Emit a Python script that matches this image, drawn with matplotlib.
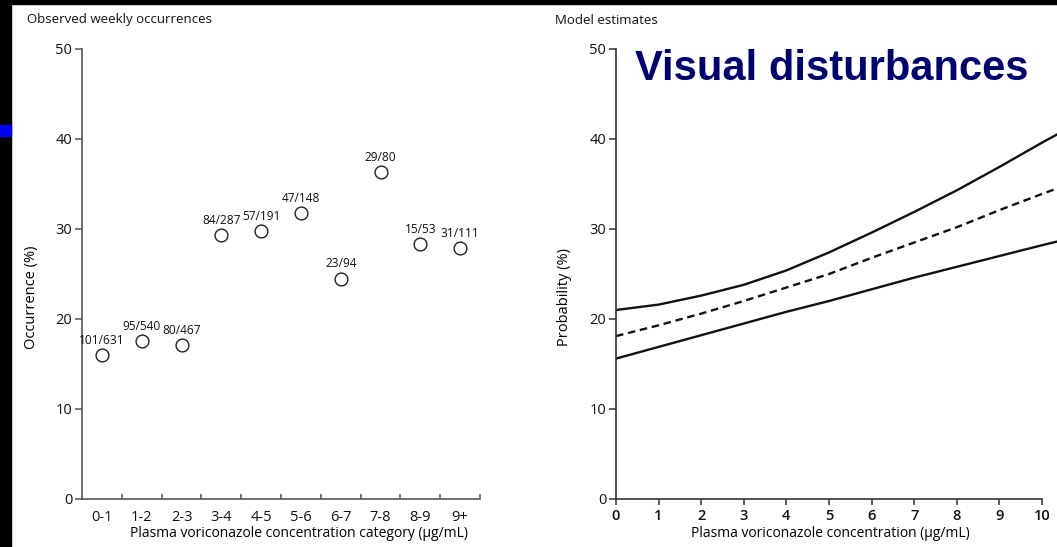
import matplotlib.pyplot as plt
from matplotlib.patches import Rectangle

# observed weekly occurrences per concentration category
categories = ["0-1", "1-2", "2-3", "3-4", "4-5", "5-6", "6-7", "7-8", "8-9", "9+"]
occurrence = [16.0, 17.6, 17.1, 29.3, 29.8, 31.8, 24.5, 36.3, 28.3, 27.9]
counts = ["101/631", "95/540", "80/467", "84/287", "57/191",
          "47/148", "23/94", "29/80", "15/53", "31/111"]

# model estimates
conc = [0, 1, 2, 3, 4, 5, 6, 7, 8, 9, 10, 10.35]
upper = [21.0, 21.6, 22.6, 23.8, 25.4, 27.4, 29.6, 31.9, 34.3, 36.9, 39.6, 40.5]
estimate = [18.1, 19.3, 20.6, 22.0, 23.5, 25.0, 26.8, 28.5, 30.2, 32.1, 33.9, 34.5]
lower = [15.6, 16.9, 18.2, 19.5, 20.8, 22.0, 23.3, 24.6, 25.8, 27.0, 28.2, 28.6]

plt.rcParams["font.family"] = ["Open Sans", "DejaVu Sans"]

W, H = 1057, 547


def fx(px):
    return px / W


def fy(py):
    return 1 - py / H


def style_axes(ax, color):
    for s in ["top", "right"]:
        ax.spines[s].set_visible(False)
    for s in ["left", "bottom"]:
        ax.spines[s].set_color(color)
        ax.spines[s].set_linewidth(1.2)
    ax.set_ylim(0, 50)
    ax.set_yticks([0, 10, 20, 30, 40, 50])
    ax.tick_params(axis="y", direction="out", length=5, width=1.1,
                   color=color, pad=2, labelsize=10.5, labelcolor="#111111")


fig = plt.figure(figsize=(W / 100, H / 100), dpi=100, facecolor="white")

# slide frame bits
fig.patches.append(Rectangle((0, 0), fx(11), 1, transform=fig.transFigure,
                             color="black", zorder=0))
fig.patches.append(Rectangle((0, fy(3.5)), 1, 3.5 / H, transform=fig.transFigure,
                             color="black", zorder=0))
fig.patches.append(Rectangle((0, fy(136)), fx(11), 11 / H, transform=fig.transFigure,
                             color="#0000f5", zorder=1))

# left panel
ax1 = fig.add_axes([fx(82), fy(499), fx(398), 450 / H])
style_axes(ax1, "#555555")
ax1.set_xlim(0, 10)
xs = [i + 0.5 for i in range(len(categories))]
ax1.plot(xs, occurrence, "o", ms=9.2, mfc="white", mec="#222222", mew=1.0,
         clip_on=False)
for x, y, t in zip(xs, occurrence, counts):
    ax1.annotate(t, (x, y), xytext=(0, 10.5), textcoords="offset points",
                 ha="center", va="center", fontsize=8.6, color="#111111")
ax1.set_xticks(range(1, 11))
ax1.set_xticklabels([])
ax1.set_xticks(xs, minor=True)
ax1.set_xticklabels(categories, minor=True)
ax1.tick_params(axis="x", which="major", direction="in", length=3.5, width=1.1,
                color="#555555")
ax1.tick_params(axis="x", which="minor", length=0, pad=8, labelsize=10.5,
                labelcolor="#111111")
ax1.set_ylabel("Occurrence (%)", fontsize=10.5, va="center")
ax1.yaxis.set_label_coords(-0.126, 0.449)
ax1.set_xlabel("Plasma voriconazole concentration category (µg/mL)",
               fontsize=10, va="center")
ax1.xaxis.set_label_coords(0.545, -0.076)

# right panel
ax2 = fig.add_axes([fx(616), fy(499), fx(W - 616), 450 / H])
style_axes(ax2, "#333333")
ax2.set_xlim(0, 10.35)
ax2.spines["bottom"].set_bounds(0, 10)
ax2.plot(conc, upper, color="#111111", lw=1.7)
ax2.plot(conc, lower, color="#111111", lw=1.7)
ax2.plot(conc, estimate, color="#111111", lw=1.7, ls=(0, (3.2, 2.0)))
ax2.set_xticks(range(0, 11))
ax2.tick_params(axis="x", direction="out", length=4, width=1.1, color="#333333",
                pad=3, labelsize=10.5, labelcolor="#111111")
for lab in ax2.get_xticklabels():
    lab.set_fontweight("semibold")
ax2.set_ylabel("Probability (%)", fontsize=10.5, va="center")
ax2.yaxis.set_label_coords(-0.116, 0.449)
ax2.set_xlabel("Plasma voriconazole concentration (µg/mL)", fontsize=10,
               va="center")
ax2.xaxis.set_label_coords(0.485, -0.076)

fig.text(fx(27), fy(20), "Observed weekly occurrences", fontsize=9.5,
         va="center", color="#111111")
fig.text(fx(555), fy(20), "Model estimates", fontsize=9.5, va="center",
         color="#111111")
fig.text(fx(635), fy(80), "Visual disturbances", fontsize=30, fontweight="bold",
         family=["Liberation Sans", "DejaVu Sans"], color="#000070",
         va="baseline")

plt.savefig("out.png", dpi=100, facecolor="white")
